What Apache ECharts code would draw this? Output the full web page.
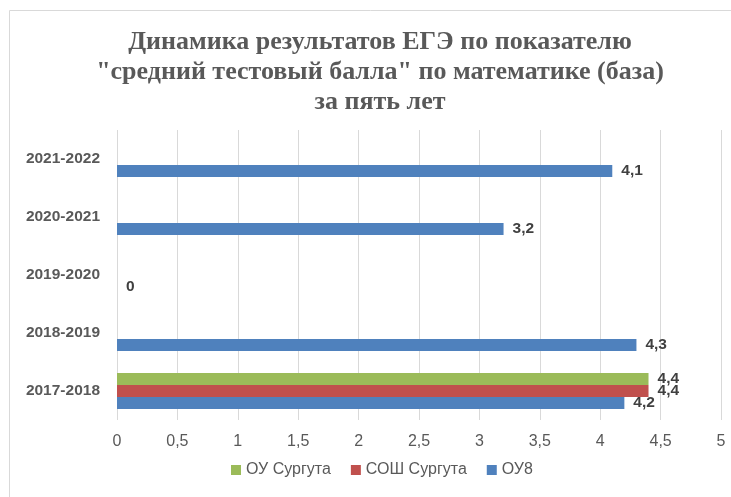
<!DOCTYPE html>
<html lang="ru">
<head>
    <meta charset="UTF-8">
    <title>Динамика результатов ЕГЭ</title>
    <script src="https://cdn.jsdelivr.net/npm/echarts@6/dist/echarts.min.js"></script>
</head>
<body style="margin:0;">
<div id="main" style="width:731px;height:497px;"></div>

<script type="text/javascript">
    // учебные годы, снизу вверх
    var years = ['2017-2018', '2018-2019', '2019-2020', '2020-2021', '2021-2022'];
    var ouSurgut = [4.4, null, null, null, null];    // ОУ Сургута
    var soshSurgut = [4.4, null, null, null, null];  // СОШ Сургута
    var ou8 = [4.2, 4.3, 0, 3.2, 4.1];               // ОУ8
    var xTicks = ['0', '0,5', '1', '1,5', '2', '2,5', '3', '3,5', '4', '4,5', '5'];

    var myChart = echarts.init(document.getElementById('main'));

    var sans = 'Liberation Sans, Arial, sans-serif';

    var valueLabel = {
        show: true,
        position: 'right',
        distance: 9,
        color: '#404040',
        fontWeight: 'bold',
        fontSize: 15.5,
        fontFamily: sans,
        formatter: function (p) {
            return String(p.value).replace('.', ',');
        }
    };

    function makeSeries(name, data, color) {
        return {
            name: name,
            type: 'bar',
            data: data,
            barGap: '0%',
            barCategoryGap: '38%',
            itemStyle: {color: color},
            label: valueLabel
        };
    }

    var option = {
        animation: false,
        title: {
            text: 'Динамика результатов ЕГЭ по показателю\n"средний тестовый балла" по математике (база)\nза пять лет',
            left: 375,
            textAlign: 'center',
            top: 22,
            textStyle: {
                fontFamily: 'Liberation Serif, serif',
                fontWeight: 'bold',
                fontSize: 26,
                lineHeight: 30,
                color: '#595959'
            }
        },
        // рамка области диаграммы
        graphic: [{
            type: 'rect',
            shape: {x: 9.5, y: 10.5, width: 800, height: 600},
            style: {fill: 'none', stroke: '#D9D9D9', lineWidth: 1},
            silent: true
        }],
        legend: {
            bottom: 14,
            left: 226,
            itemWidth: 10,
            itemHeight: 10,
            itemGap: 20,
            icon: 'rect',
            textStyle: {
                color: '#595959',
                fontSize: 16,
                fontFamily: sans
            },
            data: ['ОУ Сургута', 'СОШ Сургута', 'ОУ8']
        },
        grid: {
            left: 117,
            right: 10,
            top: 130,
            bottom: 77
        },
        xAxis: {
            type: 'value',
            min: 0,
            max: 5,
            interval: 0.5,
            axisLine: {show: false},
            axisTick: {show: false},
            splitLine: {lineStyle: {color: '#D9D9D9'}},
            axisLabel: {
                margin: 14,
                color: '#595959',
                fontSize: 16,
                fontFamily: sans,
                formatter: function (v) {
                    return xTicks[Math.round(v * 2)];
                }
            }
        },
        yAxis: {
            type: 'category',
            data: years,
            axisLine: {show: false},
            axisTick: {show: false},
            axisLabel: {
                margin: 17,
                color: '#595959',
                fontSize: 15.5,
                fontWeight: 'bold',
                fontFamily: sans
            }
        },
        series: [
            makeSeries('ОУ Сургута', ouSurgut, '#9BBB59'),
            makeSeries('СОШ Сургута', soshSurgut, '#C0504D'),
            makeSeries('ОУ8', ou8, '#4F81BD')
        ]
    };

    myChart.setOption(option);
</script>
</body>
</html>
